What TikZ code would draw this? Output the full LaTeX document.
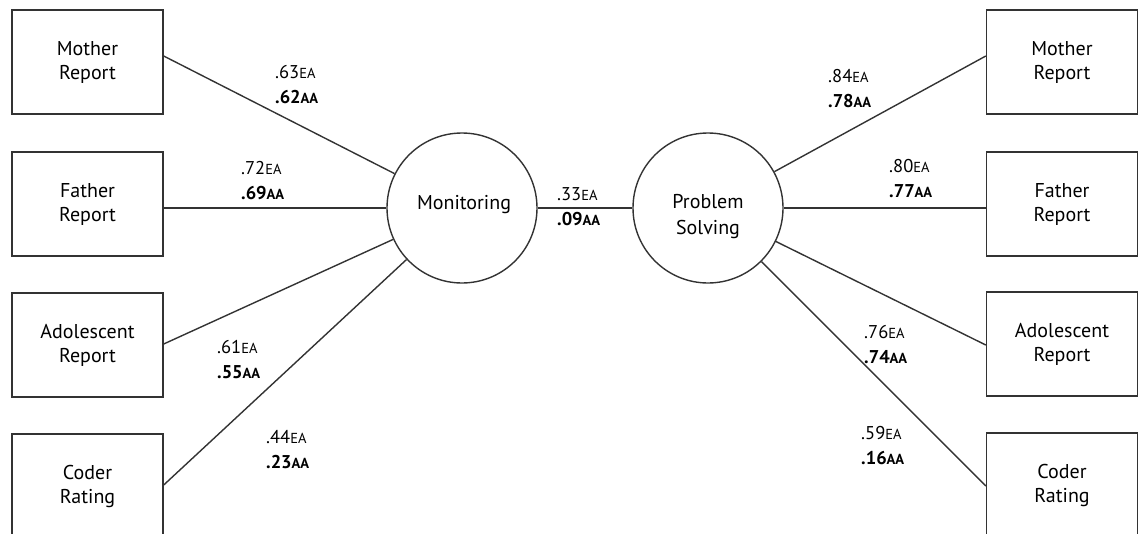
\documentclass[tikz,border=0pt]{standalone}
\usepackage{fontspec}
\setmainfont{PT Sans}
\definecolor{linec}{HTML}{333333}
\newcommand\coefs[2]{#1{\fontsize{14.5}{14.5}\selectfont EA}\\\textbf{#2{\fontsize{14.5}{14.5}\selectfont AA}}}
\begin{document}
\begin{tikzpicture}[x=1pt,y=-1pt,
  box/.style={draw=linec, line width=1.4pt, minimum width=151pt, minimum height=104pt, inner sep=0pt, align=center, font=\fontsize{20}{24}\selectfont},
  lat/.style={draw=linec, line width=1.4pt, circle, minimum size=150pt, inner sep=0pt},
  lattext/.style={align=center, font=\fontsize{20}{26}\selectfont, inner sep=0pt},
  lab/.style={align=left, anchor=west, font=\fontsize{18.5}{25}\selectfont, inner sep=0pt},
  link/.style={draw=linec, line width=1.4pt}]
\clip (0,0) rectangle (1146,533);
% left indicators
\node[box] (mL) at (87.5,62) {Mother\\Report};
\node[box] (fL) at (87.5,204) {Father\\Report};
\node[box] (aL) at (87.5,345) {Adolescent\\Report};
\node[box] (cL) at (87.5,486) {Coder\\Rating};
% right indicators
\node[box] (mR) at (1062,62) {Mother\\Report};
\node[box] (fR) at (1062,204) {Father\\Report};
\node[box] (aR) at (1062,344) {Adolescent\\Report};
\node[box] (cR) at (1062,485) {Coder\\Rating};
% latent
\node[lat] (mon) at (462,208) {};
\node[lat] (ps) at (708,208) {};
\node[lattext] (mont) at (464,205) {Monitoring};
\node[lattext] (pst) at (708,217) {Problem\\Solving};
% links
\draw[link] ([yshift=6pt]mL.east) -- (mon);
\draw[link] ([yshift=-4pt]fL.east) -- (mon);
\draw[link] ([yshift=1pt]aL.east) -- (mon);
\draw[link] ([yshift=1pt]cL.east) -- (mon);
\draw[link] ([yshift=6pt]mR.west) -- (ps);
\draw[link] ([yshift=-4pt]fR.west) -- (ps);
\draw[link] ([yshift=-1pt]aR.west) -- (ps);
\draw[link] ([yshift=-1pt]cR.west) -- (ps);
\draw[link] (mon) -- (ps);
% coefficients
\node[lab] (l1) at (275,85) {\coefs{.63}{.62}};
\node[lab] (l2) at (241,180.5) {\coefs{.72}{.69}};
\node[lab] (l3) at (217,359.5) {\coefs{.61}{.55}};
\node[lab] (l4) at (266,450) {\coefs{.44}{.23}};
\node[lab] (l5) at (557,206.5) {\coefs{.33}{.09}};
\node[lab] (r1) at (828,89) {\coefs{.84}{.78}};
\node[lab] (r2) at (889,178.5) {\coefs{.80}{.77}};
\node[lab] (r3) at (864,344.5) {\coefs{.76}{.74}};
\node[lab] (r4) at (861,445.5) {\coefs{.59}{.16}};
\end{tikzpicture}
\end{document}
